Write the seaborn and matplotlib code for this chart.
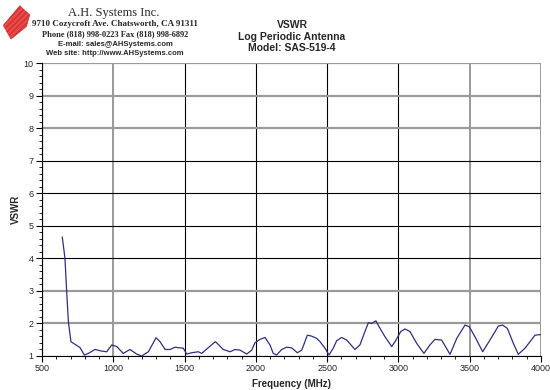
import numpy as np
import pandas as pd
import seaborn as sns
import matplotlib.pyplot as plt
from matplotlib.patches import Polygon

# VSWR sweep
freq_mhz = [642, 661, 673, 685, 703, 731, 766, 797, 825, 872, 919, 954, 989, 1024,
            1070, 1117, 1164, 1199, 1246, 1300, 1328, 1363, 1398, 1433, 1468, 1491,
            1515, 1550, 1596, 1620, 1678, 1716, 1772, 1819, 1854, 1889, 1936, 1971,
            1994, 2029, 2064, 2099, 2122, 2146, 2181, 2216, 2251, 2291, 2322, 2361,
            2392, 2427, 2450, 2485, 2513, 2543, 2567, 2602, 2637, 2695, 2730, 2765,
            2789, 2812, 2842, 2871, 2906, 2953, 2983, 3016, 3046, 3081, 3128, 3179,
            3221, 3256, 3303, 3362, 3409, 3467, 3497, 3537, 3591, 3642, 3701, 3731,
            3764, 3806, 3841, 3888, 3923, 3958, 4000]
vswr = [4.66, 4.0, 2.97, 2.05, 1.44, 1.36, 1.26, 1.03, 1.08, 1.2, 1.15, 1.13, 1.34, 1.29,
        1.08, 1.2, 1.06, 1.0, 1.13, 1.56, 1.44, 1.2, 1.2, 1.27, 1.25, 1.24,
        1.06, 1.1, 1.13, 1.08, 1.3, 1.44, 1.2, 1.13, 1.2, 1.18, 1.06, 1.18,
        1.41, 1.51, 1.57, 1.34, 1.08, 1.03, 1.2, 1.27, 1.25, 1.1, 1.18, 1.64,
        1.61, 1.54, 1.44, 1.24, 1.03, 1.24, 1.47, 1.57, 1.49, 1.2, 1.34, 1.75,
        2.02, 2.0, 2.08, 1.85, 1.59, 1.29, 1.49, 1.75, 1.83, 1.75, 1.39, 1.08,
        1.34, 1.51, 1.49, 1.05, 1.54, 1.95, 1.9, 1.59, 1.13, 1.49, 1.92, 1.95,
        1.85, 1.39, 1.05, 1.24, 1.44, 1.64, 1.66]

x_ticks = [500, 1000, 1500, 2000, 2500, 3000, 3500, 4000]
y_ticks = [1, 2, 3, 4, 5, 6, 7, 8, 9, 10]

df = pd.DataFrame({"freq": freq_mhz, "vswr": vswr})

sns.set_style("white")
plt.rcParams["font.family"] = ["Liberation Sans", "DejaVu Sans"]

fig = plt.figure(figsize=(5.5, 3.9), dpi=100)
ax = fig.add_axes([0.0764, 0.0872, 0.9072, 0.7508])

sns.lineplot(data=df, x="freq", y="vswr", ax=ax, color="#2f2f80", linewidth=0.9)

ax.set_xlim(500, 4000)
ax.set_ylim(1, 10)
ax.set_xticks(x_ticks)
ax.set_yticks(y_ticks)
ax.set_xticks(np.arange(500, 4001, 100), minor=True)
ax.set_yticks(np.arange(1, 10.01, 0.2), minor=True)
ax.tick_params(axis="both", which="major", labelsize=6.5, length=4, direction="out",
               color="black", pad=2)
ax.tick_params(axis="both", which="minor", length=2, direction="out", color="black")
ax.tick_params(bottom=True, left=True, which="both")

ax.grid(True, which="major", color="black", linewidth=0.8)
# some grid lines come out grey in the original
grey_y = [2, 3, 8, 9, 10]
grey_x = [1000, 3500, 4000]
for v, gl in zip(y_ticks, ax.get_ygridlines()):
    if v in grey_y:
        gl.set_color("#9a9a9a")
        gl.set_linewidth(1.6)
for v, gl in zip(x_ticks, ax.get_xgridlines()):
    if v in grey_x:
        gl.set_color("#9a9a9a")
        gl.set_linewidth(1.4)

for s in ["top", "right"]:
    ax.spines[s].set_visible(False)
for s in ["left", "bottom"]:
    ax.spines[s].set_color("black")
    ax.spines[s].set_linewidth(0.8)

ax.set_xlabel("Frequency (MHz)", fontsize=7, fontweight="bold", labelpad=4)
ax.set_ylabel("VSWR", fontsize=7, fontweight="bold")
ax.yaxis.set_label_coords(-0.042, 0.5)

# titles
fig.text(0.531, 0.935, "VSWR", ha="center", va="center", fontsize=7.5, fontweight="bold")
fig.text(0.531, 0.905, "Log Periodic Antenna", ha="center", va="center", fontsize=7.5,
         fontweight="bold")
fig.text(0.531, 0.876, "Model: SAS-519-4", ha="center", va="center", fontsize=7.5,
         fontweight="bold")

# company block
fig.text(0.207, 0.967, "A.H. Systems Inc.", ha="center", va="center", fontsize=9,
         family=["Liberation Serif", "DejaVu Serif"])
fig.text(0.209, 0.938, "9710 Cozycroft Ave. Chatsworth, CA 91311", ha="center",
         va="center", fontsize=6.5, fontweight="bold",
         family=["Liberation Serif", "DejaVu Serif"])
fig.text(0.209, 0.912, "Phone (818) 998-0223 Fax (818) 998-6892", ha="center",
         va="center", fontsize=6, fontweight="bold",
         family=["Liberation Serif", "DejaVu Serif"])
fig.text(0.209, 0.887, "E-mail: sales@AHSystems.com", ha="center", va="center",
         fontsize=5.5, fontweight="bold")
fig.text(0.209, 0.863, "Web site: http://www.AHSystems.com", ha="center", va="center",
         fontsize=5.5, fontweight="bold")

# logo stand-in
logo = Polygon([[0.006, 0.935], [0.036, 0.985], [0.054, 0.962], [0.048, 0.932],
                [0.020, 0.900]], closed=True, transform=fig.transFigure,
               facecolor="#e84a4a", edgecolor="#d03030", hatch="//////", linewidth=0.5)
fig.patches.append(logo)

fig.savefig("out.png", dpi=100)
